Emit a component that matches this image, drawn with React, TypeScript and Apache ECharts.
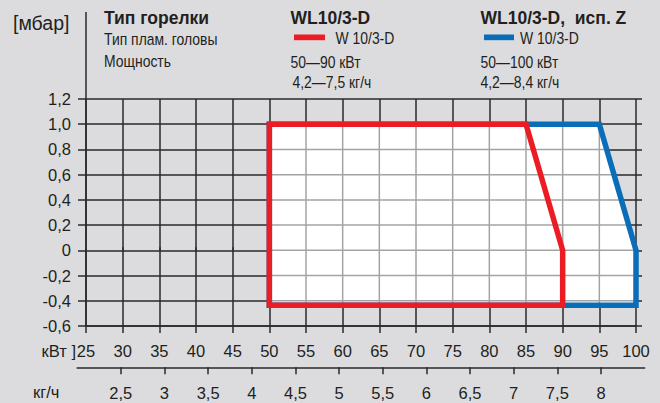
import React, { useEffect, useRef } from "react";
import * as echarts from "echarts";

// ---- data ----
const kwTicks = [25, 30, 35, 40, 45, 50, 55, 60, 65, 70, 75, 80, 85, 90, 95, 100];
const mbarTicks = [-0.6, -0.4, -0.2, 0, 0.2, 0.4, 0.6, 0.8, 1.0, 1.2];
const kgTicks = [2.5, 3, 3.5, 4, 4.5, 5, 5.5, 6, 6.5, 7, 7.5, 8];

// WL10/3-D, исп. Z (blue) working field
const blueKw = [50, 50, 95, 100, 100];
const blueMbar = [-0.435, 1.0, 1.0, 0, -0.435];
// WL10/3-D (red) working field
const redKw = [50, 50, 85, 90, 90];
const redMbar = [-0.435, 1.0, 1.0, 0, -0.435];

const headerLeft = ["Тип горелки", "Тип плам. головы", "Мощность"];
const headerRed = ["WL10/3-D", "W 10/3-D", "50—90 кВт", "4,2—7,5 кг/ч"];
const headerBlue = ["WL10/3-D,  исп. Z", "W 10/3-D", "50—100 кВт", "4,2—8,4 кг/ч"];

const BG = "#dcdcde";
const DARK = "#2a2a2a";
const TEXT = "#231f20";
const RED = "#ec1c24";
const BLUE = "#0a6db7";
const GRAY = "#a3a3a3";
const SANS = '"Liberation Sans", Arial, sans-serif';

const fmtComma = (v: number) => {
  const r = Math.round(v * 10) / 10;
  if (r === 0) return "0";
  return r.toFixed(1).replace(".", ",");
};
const fmtKg = (v: number) => {
  const r = Math.round(v * 10) / 10;
  return Number.isInteger(r) ? String(r) : r.toFixed(1).replace(".", ",");
};

function crossSeg(pts: number[][], c: number, vertical: boolean): number[] | null {
  const a = vertical ? 0 : 1;
  const b = vertical ? 1 : 0;
  const hits: number[] = [];
  for (let i = 0; i < pts.length; i++) {
    const p = pts[i];
    const q = pts[(i + 1) % pts.length];
    if (p[a] === q[a]) continue;
    if ((p[a] - c) * (q[a] - c) <= 0) {
      const t = (c - p[a]) / (q[a] - p[a]);
      hits.push(p[b] + t * (q[b] - p[b]));
    }
  }
  if (hits.length < 2) return null;
  return [Math.min(...hits), Math.max(...hits)];
}

function renderField(params: any, api: any) {
  const blue = blueKw.map((x, i) => api.coord([x, blueMbar[i]]));
  const red = redKw.map((x, i) => api.coord([x, redMbar[i]]));
  const xs = blue.map((p) => p[0]);
  const ys = blue.map((p) => p[1]);
  const minX = Math.min(...xs), maxX = Math.max(...xs);
  const minY = Math.min(...ys), maxY = Math.max(...ys);
  const children: any[] = [];
  children.push({ type: "polygon", shape: { points: blue }, style: { fill: "#ffffff", stroke: null } });
  kwTicks.forEach((v) => {
    const X = api.coord([v, 0])[0];
    if (X <= minX + 1 || X >= maxX - 1) return;
    const s = crossSeg(blue, X, true);
    if (!s) return;
    children.push({ type: "line", shape: { x1: X, y1: s[0], x2: X, y2: s[1] }, style: { stroke: GRAY, lineWidth: 1.5 } });
  });
  mbarTicks.forEach((v) => {
    const Y = api.coord([50, v])[1];
    if (Y <= minY + 1 || Y >= maxY - 1) return;
    const s = crossSeg(blue, Y, false);
    if (!s) return;
    children.push({ type: "line", shape: { x1: s[0], y1: Y, x2: s[1], y2: Y }, style: { stroke: GRAY, lineWidth: 1.5 } });
  });
  children.push({ type: "polygon", shape: { points: blue }, style: { fill: null, stroke: BLUE, lineWidth: 5.5, lineJoin: "miter" } });
  children.push({ type: "polygon", shape: { points: red }, style: { fill: null, stroke: RED, lineWidth: 5.5, lineJoin: "miter" } });
  return { type: "group", children };
}

function txt(text: string, x: number, y: number, size: number, opts: any = {}) {
  return {
    type: "text",
    silent: true,
    x,
    y,
    scaleX: opts.scaleX || 1,
    style: {
      text,
      x: 0,
      y: 0,
      fill: TEXT,
      fontSize: size,
      fontFamily: SANS,
      fontWeight: opts.bold ? "bold" : "normal",
      align: opts.align || "left",
      verticalAlign: "middle",
    },
  };
}

const NARROW = { scaleX: 0.82 };

export default function App() {
  const ref = useRef<HTMLDivElement>(null);
  useEffect(() => {
    if (!ref.current) return;
    const chart = echarts.init(ref.current, undefined, { renderer: "svg" });
    const lineStyle = { color: DARK, width: 1.5 };
    const option: any = {
      animation: false,
      backgroundColor: BG,
      textStyle: { fontFamily: SANS },
      grid: [
        { left: 86, right: 24, top: 99, bottom: 77 },
        { left: 77.15, width: 567.5, top: 300, bottom: 35.7 },
      ],
      xAxis: [
        {
          gridIndex: 0, type: "value", min: 25, max: 100, interval: 5, position: "bottom",
          axisLine: { show: true, onZero: false, lineStyle },
          axisTick: { show: true, length: 7, lineStyle },
          axisLabel: { margin: 16, fontSize: 16.5, color: TEXT, fontFamily: SANS, formatter: (v: number) => String(v) },
          splitLine: { show: true, lineStyle },
        },
        {
          gridIndex: 0, type: "value", min: 25, max: 100, interval: 5, position: "top",
          axisLine: { show: false },
          axisTick: { show: true, length: 3, lineStyle },
          axisLabel: { show: false },
          splitLine: { show: false },
        },
        {
          gridIndex: 1, type: "value", min: 2, max: 8.5, interval: 0.5, position: "bottom",
          axisLine: { show: true, onZero: false, lineStyle },
          axisTick: { show: true, length: 7, lineStyle, customValues: kgTicks },
          axisLabel: { margin: 17, fontSize: 16.5, color: TEXT, fontFamily: SANS, customValues: kgTicks, formatter: fmtKg },
          splitLine: { show: false },
        },
      ],
      yAxis: [
        {
          gridIndex: 0, type: "value", min: -0.6, max: 1.2, interval: 0.2,
          axisLine: { show: true, onZero: false, lineStyle },
          axisTick: { show: true, length: 8, lineStyle },
          axisLabel: { margin: 15, fontSize: 16.5, color: TEXT, fontFamily: SANS, formatter: fmtComma },
          splitLine: { show: true, lineStyle },
        },
        {
          gridIndex: 0, type: "value", position: "right", min: -0.6, max: 1.2, interval: 0.2,
          axisLine: { show: false },
          axisTick: { show: true, length: 6, lineStyle },
          axisLabel: { show: false },
          splitLine: { show: false },
        },
        { gridIndex: 1, type: "value", show: false, min: 0, max: 1 },
      ],
      series: [
        {
          type: "custom",
          xAxisIndex: 0,
          yAxisIndex: 0,
          clip: false,
          silent: true,
          data: [[50, 0]],
          renderItem: renderField,
          z: 5,
        },
      ],
      graphic: [
        { type: "line", silent: true, shape: { x1: 86, y1: 12, x2: 86, y2: 99 }, style: { stroke: DARK, lineWidth: 1.5 } },
        txt("[мбар]", 13, 23, 19.5),
        txt(headerLeft[0], 104, 18, 17.5, { bold: true }),
        txt(headerLeft[1], 104, 39, 17, NARROW),
        txt(headerLeft[2], 104, 61, 17, NARROW),
        txt(headerRed[0], 290.5, 18, 17.5, { bold: true }),
        { type: "rect", silent: true, shape: { x: 294, y: 34.5, width: 31, height: 5.7 }, style: { fill: RED } },
        txt(headerRed[1], 335.5, 38, 17, NARROW),
        txt(headerRed[2], 290.5, 62, 17, NARROW),
        txt(headerRed[3], 292.5, 82, 17, NARROW),
        txt(headerBlue[0], 480.5, 18, 17.5, { bold: true }),
        { type: "rect", silent: true, shape: { x: 484, y: 34.5, width: 30, height: 5.7 }, style: { fill: BLUE } },
        txt(headerBlue[1], 520, 38, 17, NARROW),
        txt(headerBlue[2], 480.5, 62, 17, NARROW),
        txt(headerBlue[3], 480.5, 82, 17, NARROW),
        txt("кВт ]", 76, 351, 16.5, { align: "right" }),
        txt("кг/ч", 33, 392, 16.5),
      ],
    };
    chart.setOption(option);
    return () => chart.dispose();
  }, []);
  return <div ref={ref} style={{ position: "fixed", left: 0, top: 0, width: 660, height: 403 }} />;
}
